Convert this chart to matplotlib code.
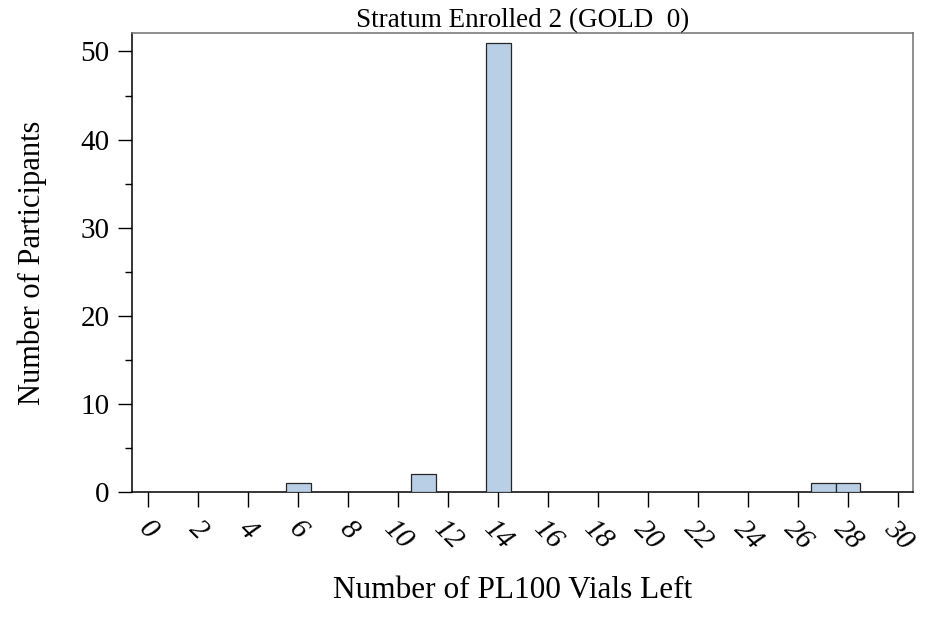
import numpy as np
import matplotlib
matplotlib.use("Agg")
import matplotlib.pyplot as plt
from matplotlib.ticker import MultipleLocator

# Histogram data: number of PL100 vials left -> participants
vials_left = [6, 11, 14, 27, 28]
participants = [1, 2, 51, 1, 1]
x_ticks = list(range(0, 31, 2))

plt.rcParams['font.family'] = ['Liberation Serif', 'DejaVu Serif']

fig = plt.figure(figsize=(9.3, 6.19), dpi=100)
ax = fig.add_axes([0.1419, 0.2052, 0.8398, 0.7415])

ax.bar(vials_left, participants, width=1.0, color='#b9cfe6',
       edgecolor='#262626', linewidth=0.9, zorder=3)

ax.set_xlim(-0.65, 30.6)
ax.set_ylim(0, 52.1)

ax.set_xticks(x_ticks)
ax.set_xticklabels([str(t) for t in x_ticks], rotation=-45, ha='center',
                   va='top', fontsize=21, fontstyle='italic')
ax.yaxis.set_major_locator(MultipleLocator(10))
ax.yaxis.set_minor_locator(MultipleLocator(5))
ax.tick_params(axis='y', which='major', length=10, width=1, labelsize=21, pad=6)
ax.tick_params(axis='y', which='minor', length=5, width=1)
ax.tick_params(axis='x', which='major', length=11, width=1, pad=6)

for side in ['left', 'bottom']:
    ax.spines[side].set_color('black')
for side in ['top', 'right']:
    ax.spines[side].set_color('#707070')
for s in ax.spines.values():
    s.set_linewidth(1.1)

ax.set_xlabel('Number of PL100 Vials Left', fontsize=22.5)
ax.xaxis.set_label_coords(0.487, -0.214, transform=ax.transAxes)
ax.xaxis.label.set_va('center')
ax.set_ylabel('Number of Participants', fontsize=22, labelpad=24)
ax.set_title('Stratum Enrolled 2 (GOLD  0)', fontsize=19.5, pad=2)

fig.savefig('out.png', dpi=100)
